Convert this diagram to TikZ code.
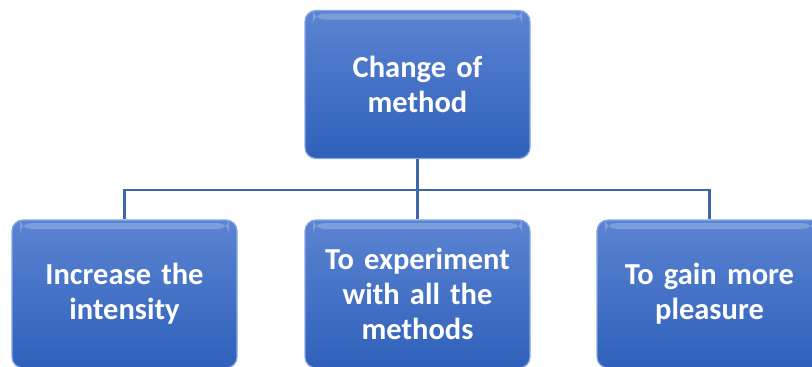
\documentclass[tikz,border=0pt]{standalone}
\usepackage{fontspec}
\setmainfont{Carlito}
\definecolor{boxtop}{HTML}{5B84D2}
\definecolor{boxbot}{HTML}{2F60BA}
\definecolor{boxrim}{HTML}{86A8E6}
\definecolor{linkc}{HTML}{4066A8}
\begin{document}
\begin{tikzpicture}[x=1pt,y=-1pt,
	box/.style={rounded corners=11pt, top color=boxtop, bottom color=boxbot,
		draw=boxrim, line width=1.2pt, minimum width=225pt, minimum height=148pt,
		text width=215pt, align=center, text=white,
		font=\bfseries\fontsize{30.5}{35}\selectfont,
		path picture={\fill[white,opacity=0.22] ([xshift=8pt,yshift=-3pt]path picture bounding box.north west) rectangle ([xshift=-8pt,yshift=-9pt]path picture bounding box.north east);}},
	link/.style={draw=linkc, line width=2.2pt}]
	\useasboundingbox (0,0) rectangle (812,367);
	\node[box] (top) at (417.5,84.5) {Change of\\method};
	\node[box] (b1) at (124.5,294) {Increase the\\intensity};
	\node[box] (b2) at (417.5,294) {To experiment\\with all the\\methods};
	\node[box] (b3) at (709.5,294) {To gain more\\pleasure};
	\coordinate (bar) at (417.5,190);
	\draw[link] (top.south) -- (bar);
	\draw[link] (b1.north) |- (bar) -| (b3.north);
	\draw[link] (bar) -- (b2.north);
\end{tikzpicture}
\end{document}
